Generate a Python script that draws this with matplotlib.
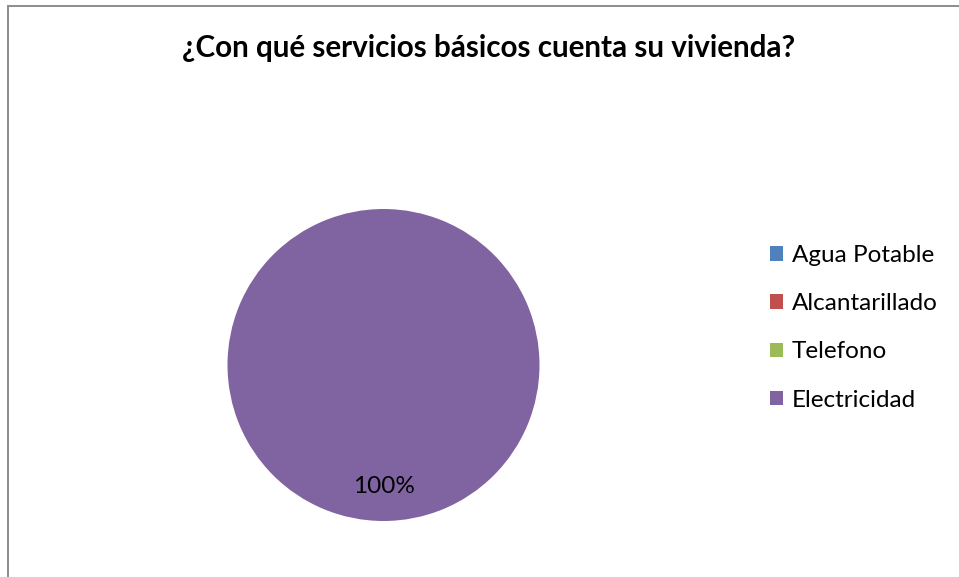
import matplotlib
matplotlib.use("Agg")
import matplotlib.pyplot as plt
from matplotlib.patches import Rectangle

# survey answers: share of households with each basic service
servicios = ["Agua Potable", "Alcantarillado", "Telefono", "Electricidad"]
valores = [0, 0, 0, 100]
colores = ["#4F81BD", "#C0504D", "#9BBB59", "#8064A2"]
titulo = "¿Con qué servicios básicos cuenta su vivienda?"

plt.rcParams["font.family"] = ["Lato", "DejaVu Sans"]

W, H = 959, 577
fig = plt.figure(figsize=(W / 100, H / 100), dpi=100)

# chart-area frame (runs off the right and bottom edges)
fig.patches.append(
    Rectangle((8 / W, -0.05), 1.2, (H - 6) / H + 0.05,
              transform=fig.transFigure, facecolor="none",
              edgecolor="#8c8c8c", linewidth=1.4)
)

fig.text(488.5 / W, 1 - 48 / H, titulo, ha="center", va="center",
         fontsize=21.3, fontweight="bold", color="black")

# pie axes: centre (383.5, 365) px, radius 156 px
cx, cy, r = 383.5, 365, 156
ax = fig.add_axes([(cx - r) / W, (H - cy - r) / H, 2 * r / W, 2 * r / H])


def etiqueta(pct):
    return f"{pct:.0f}%" if pct > 0 else ""


wedges, _, autotexts = ax.pie(
    valores, colors=colores, startangle=90, counterclock=False,
    autopct=etiqueta, pctdistance=0.78, radius=1,
    textprops={"fontsize": 17.5, "color": "black"},
    wedgeprops={"linewidth": 0},
)
ax.set_xlim(-1, 1)
ax.set_ylim(-1, 1)
ax.set_aspect("auto")
ax.axis("off")

fig.legend(
    wedges, servicios, loc="upper left",
    bbox_to_anchor=(770 / W, 1 - 245 / H), frameon=False,
    fontsize=17.5, handlelength=0.55, handleheight=0.55,
    handletextpad=0.34, labelspacing=1.12, borderpad=0, borderaxespad=0,
)

fig.savefig("out.png", dpi=100)
